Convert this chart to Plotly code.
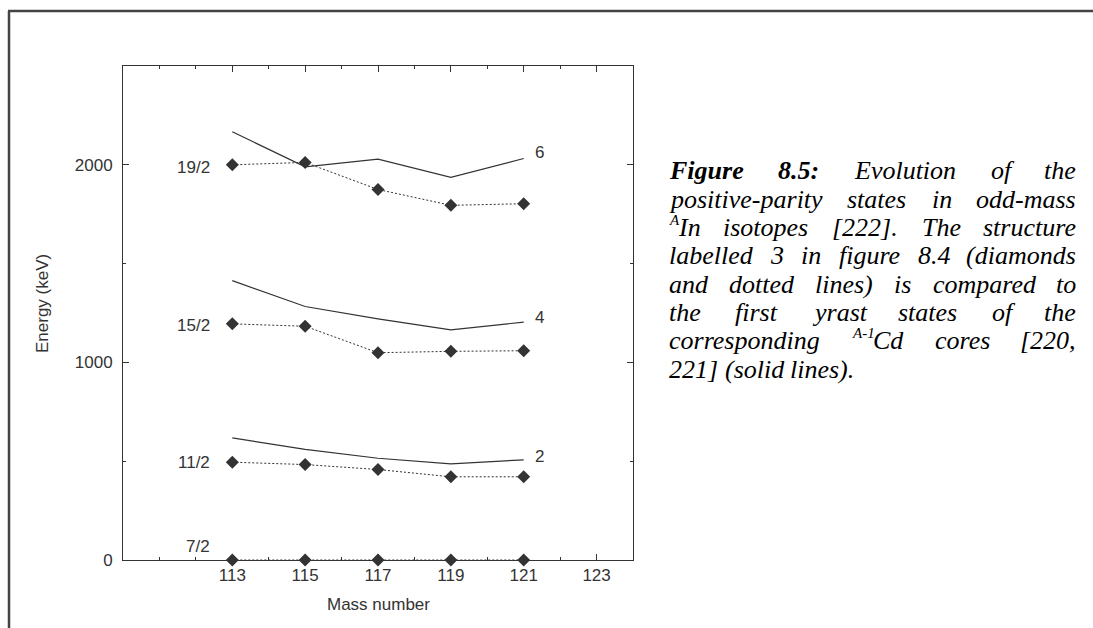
import plotly.graph_objects as go

# ---------------- data ----------------
masses = [113, 115, 117, 119, 121]
in_19_2 = [2000, 2012, 1875, 1795, 1803]
in_15_2 = [1195, 1183, 1049, 1056, 1059]
in_11_2 = [495, 483, 458, 421, 421]
in_7_2 = [0, 0, 0, 0, 0]
cd_6 = [2167, 1990, 2029, 1936, 2032]
cd_4 = [1414, 1283, 1220, 1165, 1204]
cd_2 = [618, 560, 515, 486, 507]

spin_labels = ["19/2", "15/2", "11/2", "7/2"]
spin_label_y = [1988, 1189, 491, 66]
core_labels = ["6", "4", "2"]
core_label_y = [2060, 1225, 526]

x_ticks = [113, 115, 117, 119, 121, 123]
y_ticks = [0, 1000, 2000]

# ---------------- geometry ----------------
W, H = 1093, 628
L, R, T, B = 123, 633, 66, 560
PW, PH = R - L, B - T


def px(xp):
    return (xp - L) / PW


def py(yp):
    return (B - yp) / PH


INK = "#333333"
fig = go.Figure()

for vals in [in_19_2, in_15_2, in_11_2, in_7_2]:
    fig.add_trace(go.Scatter(
        x=masses, y=vals, mode="lines+markers", cliponaxis=False,
        line=dict(color=INK, width=1, dash="2px,2px"),
        marker=dict(symbol="diamond", size=10, color=INK),
        showlegend=False, hoverinfo="skip"))

for vals in [cd_6, cd_4, cd_2]:
    fig.add_trace(go.Scatter(
        x=masses, y=vals, mode="lines", cliponaxis=False,
        line=dict(color=INK, width=1.2),
        showlegend=False, hoverinfo="skip"))

annotations = []
lab_font = dict(family="Liberation Sans, Arial, sans-serif", size=17, color=INK)
for t, yv in zip(spin_labels, spin_label_y):
    annotations.append(dict(x=112.45, y=yv, xref="x", yref="y", text=t,
                            showarrow=False, xanchor="right", yanchor="middle",
                            font=lab_font))
for t, yv in zip(core_labels, core_label_y):
    annotations.append(dict(x=121.25, y=yv, xref="x", yref="y", text=t,
                            showarrow=False, xanchor="left", yanchor="middle",
                            font=lab_font))

# axis titles
annotations.append(dict(x=px(42), y=py(304), xref="paper", yref="paper",
                        text="Energy (keV)", textangle=-90, showarrow=False,
                        xanchor="center", yanchor="middle", font=lab_font))
annotations.append(dict(x=px(378), y=py(604), xref="paper", yref="paper",
                        text="Mass number", showarrow=False,
                        xanchor="center", yanchor="middle", font=lab_font))

# ---------------- caption (justified) ----------------
IT = {'a': 500, 'b': 500, 'c': 444, 'd': 500, 'e': 444, 'f': 278, 'g': 500,
      'h': 500, 'i': 278, 'l': 278, 'm': 722, 'n': 500, 'o': 500, 'p': 500,
      'r': 389, 's': 389, 't': 278, 'u': 500, 'v': 444, 'y': 444, 'E': 611,
      'T': 556, 'C': 667, 'F': 611, 'A': 611, 'I': 333, '-': 333, '.': 250,
      ',': 250, ':': 333, '[': 389, ']': 389, '(': 333, ')': 333, ' ': 250}
BI = {'F': 667, 'i': 278, 'g': 500, 'u': 556, 'r': 389, 'e': 444, '8': 500,
      '.': 250, '5': 500, ':': 333}
CAP_SIZE = 26
SUP_SIZE = 15
CAP_FONT = dict(family="Liberation Serif, Times New Roman, serif",
                size=CAP_SIZE, color="#000000")
SUP_FONT = dict(family="Liberation Serif, Times New Roman, serif",
                size=SUP_SIZE, color="#000000")


def width(word, bold=False, size=CAP_SIZE):
    tab = BI if bold else IT
    return sum(tab.get(c, 500) for c in word) / 1000.0 * size


# each word: (text, sup, bold)
caption_lines = [
    [("Figure", "", True), ("8.5:", "", True), ("Evolution", "", False),
     ("of", "", False), ("the", "", False)],
    [(w, "", False) for w in "positive-parity states in odd-mass".split()],
    [("In", "A", False)] + [(w, "", False) for w in "isotopes [222]. The structure".split()],
    [(w, "", False) for w in "labelled 3 in figure 8.4 (diamonds".split()],
    [(w, "", False) for w in "and dotted lines) is compared to".split()],
    [(w, "", False) for w in "the first yrast states of the".split()],
    [("corresponding", "", False), ("Cd", "A-1", False), ("cores", "", False),
     ("[220,", "", False)],
    [(w, "", False) for w in "221] (solid lines).".split()],
]
line_y = [170, 199, 227, 255, 284, 312, 340, 369]
X0, X1 = 668, 1077

for i, (words, yl) in enumerate(zip(caption_lines, line_y)):
    widths = [width(w, b) + (width(s, False, SUP_SIZE) if s else 0)
              for (w, s, b) in words]
    last = i == len(caption_lines) - 1
    if last:
        gap = 0.25 * CAP_SIZE
    else:
        gap = (X1 - X0 - sum(widths)) / (len(words) - 1)
    xcur = X0
    for j, ((w, s, b), wd) in enumerate(zip(words, widths)):
        txt = f"<i>{w}</i>"
        if b:
            txt = f"<b>{txt}</b>"
        if (not last) and j == len(words) - 1:
            annotations.append(dict(x=px(X1), y=py(yl), xref="paper", yref="paper",
                                    text=txt, showarrow=False, xanchor="right",
                                    yanchor="middle", font=CAP_FONT, borderpad=0))
        else:
            xw = xcur
            if s:
                annotations.append(dict(x=px(xcur), y=py(yl - 7), xref="paper",
                                        yref="paper", text=f"<i>{s}</i>",
                                        showarrow=False, xanchor="left",
                                        yanchor="middle", font=SUP_FONT,
                                        borderpad=0))
                xw = xcur + width(s, False, SUP_SIZE)
            annotations.append(dict(x=px(xw), y=py(yl), xref="paper", yref="paper",
                                    text=txt, showarrow=False, xanchor="left",
                                    yanchor="middle", font=CAP_FONT, borderpad=0))
        xcur += wd + gap

# ---------------- outer frame ----------------
shapes = [
    dict(type="line", xref="paper", yref="paper", x0=px(9), y0=py(640),
         x1=px(9), y1=py(11), line=dict(color="#444444", width=2.5)),
    dict(type="line", xref="paper", yref="paper", x0=px(8), y0=py(11),
         x1=px(1100), y1=py(11), line=dict(color="#444444", width=2.5)),
]

tick_font = dict(family="Liberation Sans, Arial, sans-serif", size=17, color=INK)
axis_common = dict(showgrid=False, zeroline=False, showline=True, linecolor=INK,
                   linewidth=1, mirror="allticks", ticks="inside", ticklen=6,
                   tickwidth=1, tickcolor=INK, tickfont=tick_font,
                   tickmode="array")

fig.update_layout(
    width=W, height=H, autosize=False,
    margin=dict(l=L, r=W - R, t=T, b=H - B, pad=0),
    paper_bgcolor="white", plot_bgcolor="white",
    xaxis=dict(range=[110, 124], tickvals=x_ticks,
               ticktext=[str(v) for v in x_ticks],
               minor=dict(tick0=110, dtick=1, ticklen=3, ticks="inside",
                          tickcolor=INK, tickwidth=1),
               **axis_common),
    yaxis=dict(range=[0, 2500], tickvals=y_ticks,
               ticktext=[str(v) for v in y_ticks],
               minor=dict(tick0=0, dtick=500, ticklen=3, ticks="inside",
                          tickcolor=INK, tickwidth=1),
               ticklabelstandoff=6,
               **axis_common),
    annotations=annotations,
    shapes=shapes,
    showlegend=False,
)

fig.write_html("out.html")
